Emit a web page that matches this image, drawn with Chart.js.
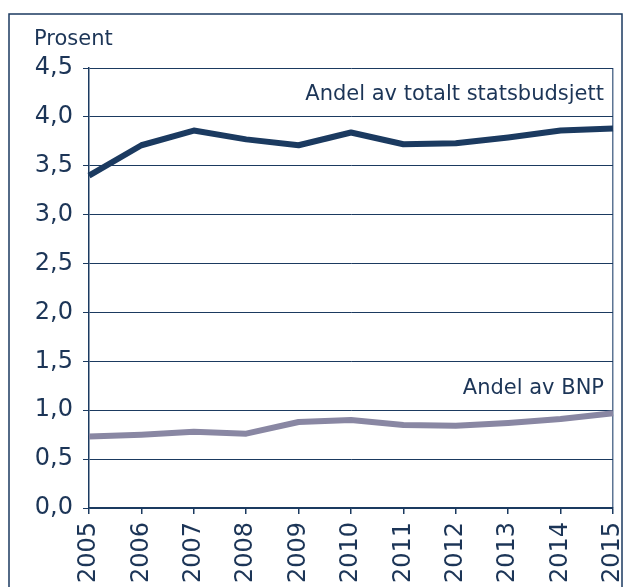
<!DOCTYPE html>
<html lang="no">
<head>
<meta charset="utf-8">
<title>Andel av statsbudsjett og BNP</title>
<script src="https://cdn.jsdelivr.net/npm/chart.js@4.4.1/dist/chart.umd.min.js"></script>
<style>
  html, body { margin: 0; padding: 0; background: #fff; overflow: hidden; }
  #wrap { position: relative; width: 624px; height: 587px; }
</style>
</head>
<body>
<div id="wrap"><canvas id="chart" width="624" height="587"></canvas></div>
<script>
/* ---------- data ---------- */
const years = ["2005", "2006", "2007", "2008", "2009", "2010", "2011", "2012", "2013", "2014", "2015"];
const andelStatsbudsjett = [3.40, 3.71, 3.86, 3.77, 3.71, 3.84, 3.72, 3.73, 3.79, 3.86, 3.88];
const andelBnp = [0.73, 0.75, 0.78, 0.76, 0.88, 0.90, 0.85, 0.84, 0.87, 0.91, 0.97];
const yTicks = [0, 0.5, 1, 1.5, 2, 2.5, 3, 3.5, 4, 4.5];

/* ---------- look ---------- */
const NAVY = "#1b3a60";
const TEXT = "#1c3557";
const GREY_LINE = "#8987a3";
const FONT = "'DejaVu Sans', Verdana, sans-serif";

// frame round the figure + the free text labels
const figureText = {
  id: "figureText",
  beforeDraw(chart) {
    const c = chart.ctx;
    c.save();
    c.strokeStyle = NAVY;
    c.lineWidth = 1.5;
    c.strokeRect(9, 14, 613, 600);
    c.restore();
  },
  afterDraw(chart) {
    const c = chart.ctx;
    const { chartArea, scales } = chart;
    c.save();
    c.fillStyle = TEXT;
    c.font = `21px ${FONT}`;
    c.textBaseline = "middle";

    c.textAlign = "left";
    c.fillText("Prosent", 34, 40);

    c.textAlign = "right";
    c.fillText("Andel av totalt statsbudsjett", chartArea.right - 9, scales.y.getPixelForValue(4.23));
    c.fillText("Andel av BNP", chartArea.right - 9, scales.y.getPixelForValue(1.22));
    c.restore();
  }
};

new Chart(document.getElementById("chart"), {
  type: "line",
  data: {
    labels: years,
    datasets: [
      {
        label: "Andel av totalt statsbudsjett",
        data: andelStatsbudsjett,
        borderColor: NAVY,
        borderWidth: 6,
        borderJoinStyle: "round",
        pointRadius: 0,
        tension: 0
      },
      {
        label: "Andel av BNP",
        data: andelBnp,
        borderColor: GREY_LINE,
        borderWidth: 6,
        borderJoinStyle: "round",
        pointRadius: 0,
        tension: 0
      }
    ]
  },
  options: {
    responsive: false,
    animation: false,
    layout: { padding: { top: 68, right: 11, left: 0, bottom: 0 } },
    plugins: {
      legend: { display: false },
      tooltip: { enabled: false }
    },
    scales: {
      x: {
        type: "category",
        offset: false,
        afterFit: s => {
          s.height = 79;
          s.paddingLeft = 0;
          s.paddingRight = 0;
        },
        border: { display: true, color: NAVY, width: 1.5 },
        grid: {
          drawOnChartArea: true,
          color: ctx => ctx.index === years.length - 1 ? "#5d7594" : "transparent",
          lineWidth: 1.5,
          tickColor: NAVY,
          tickLength: 6
        },
        ticks: {
          color: TEXT,
          font: { family: FONT, size: 24 },
          minRotation: 90,
          maxRotation: 90,
          padding: 8,
          autoSkip: false
        }
      },
      y: {
        min: 0,
        max: 4.5,
        afterFit: s => {
          s.width = 89;
          s.paddingTop = 0;
          s.paddingBottom = 0;
        },
        afterBuildTicks: s => { s.ticks = yTicks.map(v => ({ value: v })); },
        border: { display: true, color: NAVY, width: 1.5 },
        grid: {
          color: NAVY,
          lineWidth: 1,
          tickColor: NAVY,
          tickLength: 6
        },
        ticks: {
          color: TEXT,
          font: { family: FONT, size: 24 },
          padding: 10,
          callback: v => v.toFixed(1).replace(".", ",")
        }
      }
    }
  },
  plugins: [figureText]
});
</script>
</body>
</html>
